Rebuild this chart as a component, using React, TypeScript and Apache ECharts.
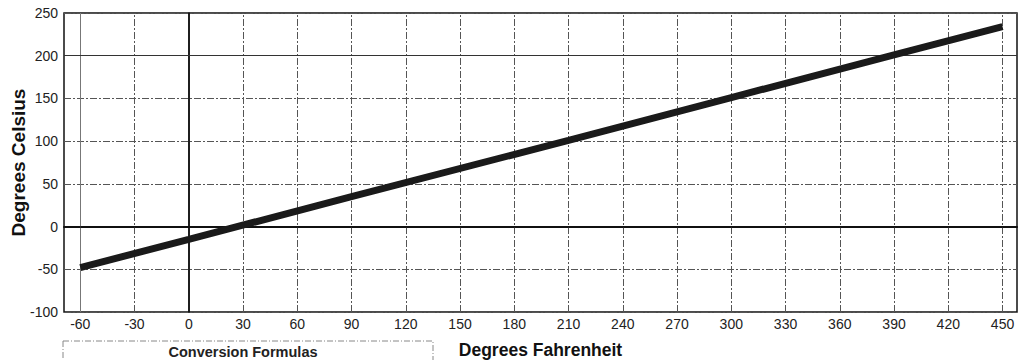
import React, { useEffect, useRef } from "react";
import * as echarts from "echarts";

const fahrenheitTicks = [-60, -30, 0, 30, 60, 90, 120, 150, 180, 210, 240, 270, 300, 330, 360, 390, 420, 450];
const celsiusTicks = [-100, -50, 0, 50, 100, 150, 200, 250];
const lineF = [-60, 0, 90, 210, 300, 390, 450];
const lineC = [-48, -15, 35, 101, 151, 201, 234];
const xTitle = "Degrees Fahrenheit";
const yTitle = "Degrees Celsius";
const boxTitle = "Conversion Formulas";

const FONT = "'Liberation Sans', Arial, sans-serif";
const DASH = [7, 2, 2, 2];

export default function App() {
  const ref = useRef<HTMLDivElement>(null);
  useEffect(() => {
    if (!ref.current) return;
    const chart = echarts.init(ref.current, null, { renderer: "svg" });

    const vLines = fahrenheitTicks.map((v) => ({
      xAxis: v,
      lineStyle:
        v === 0
          ? { color: "#111", width: 1.5, type: "solid" }
          : v === -60
          ? { color: "#777", width: 1, type: "solid" }
          : { color: "#555", width: 1, type: DASH },
    }));
    const hLines = [
      { yAxis: 0, lineStyle: { color: "#111", width: 1.5, type: "solid" } },
      { yAxis: 200, lineStyle: { color: "#333", width: 1, type: "solid" } },
    ];

    chart.setOption({
      animation: false,
      backgroundColor: "#fff",
      grid: {
        left: 64,
        right: 1,
        top: 13,
        bottom: 48,
        outerBoundsMode: "none",
        containLabel: false,
        show: true,
        borderColor: "#111",
        borderWidth: 1.5,
      },
      xAxis: {
        type: "value",
        min: -69,
        max: 458,
        name: xTitle,
        nameLocation: "middle",
        nameGap: 29,
        nameMoveOverlap: false,
        nameTextStyle: { fontFamily: FONT, fontSize: 17.5, fontWeight: "bold", color: "#111" },
        axisLine: { show: true, lineStyle: { color: "#111", width: 2 } },
        axisTick: { show: false, customValues: fahrenheitTicks },
        axisLabel: {
          customValues: fahrenheitTicks,
          fontFamily: FONT,
          fontSize: 14,
          color: "#222",
          margin: 5,
        },
        splitLine: { show: false },
      },
      yAxis: {
        type: "value",
        min: celsiusTicks[0],
        max: celsiusTicks[celsiusTicks.length - 1],
        interval: 50,
        name: yTitle,
        nameLocation: "middle",
        nameGap: 36,
        nameMoveOverlap: false,
        nameTextStyle: { fontFamily: FONT, fontSize: 19, fontWeight: "bold", color: "#111" },
        axisLine: { show: true, lineStyle: { color: "#111", width: 1.5 } },
        axisTick: { show: false },
        axisLabel: { fontFamily: FONT, fontSize: 14, color: "#222", margin: 6 },
        splitLine: { show: true, lineStyle: { color: "#555", width: 1, type: DASH } },
      },
      series: [
        {
          type: "line",
          data: lineF.map((f, i) => [f, lineC[i]]),
          showSymbol: false,
          symbol: "none",
          lineStyle: { color: "#1a1a1a", width: 7, cap: "butt" },
          z: 5,
          markLine: {
            silent: true,
            symbol: "none",
            label: { show: false },
            data: [...vLines, ...hLines],
            z: 1,
          },
        },
      ],
      graphic: [
        {
          type: "rect",
          shape: { x: 63, y: 341, width: 370, height: 40 },
          style: { fill: "none", stroke: "#888", lineWidth: 1, lineDash: [6, 2, 1, 2] },
        },
        {
          type: "text",
          x: 243,
          y: 352,
          style: {
            text: boxTitle,
            fontFamily: FONT,
            fontSize: 14.5,
            fontWeight: "bold",
            fill: "#222",
            align: "center",
            verticalAlign: "middle",
          },
        },
      ],
    });
    return () => chart.dispose();
  }, []);
  return <div ref={ref} style={{ width: 1018, height: 360, position: "absolute", left: 0, top: 0 }} />;
}
